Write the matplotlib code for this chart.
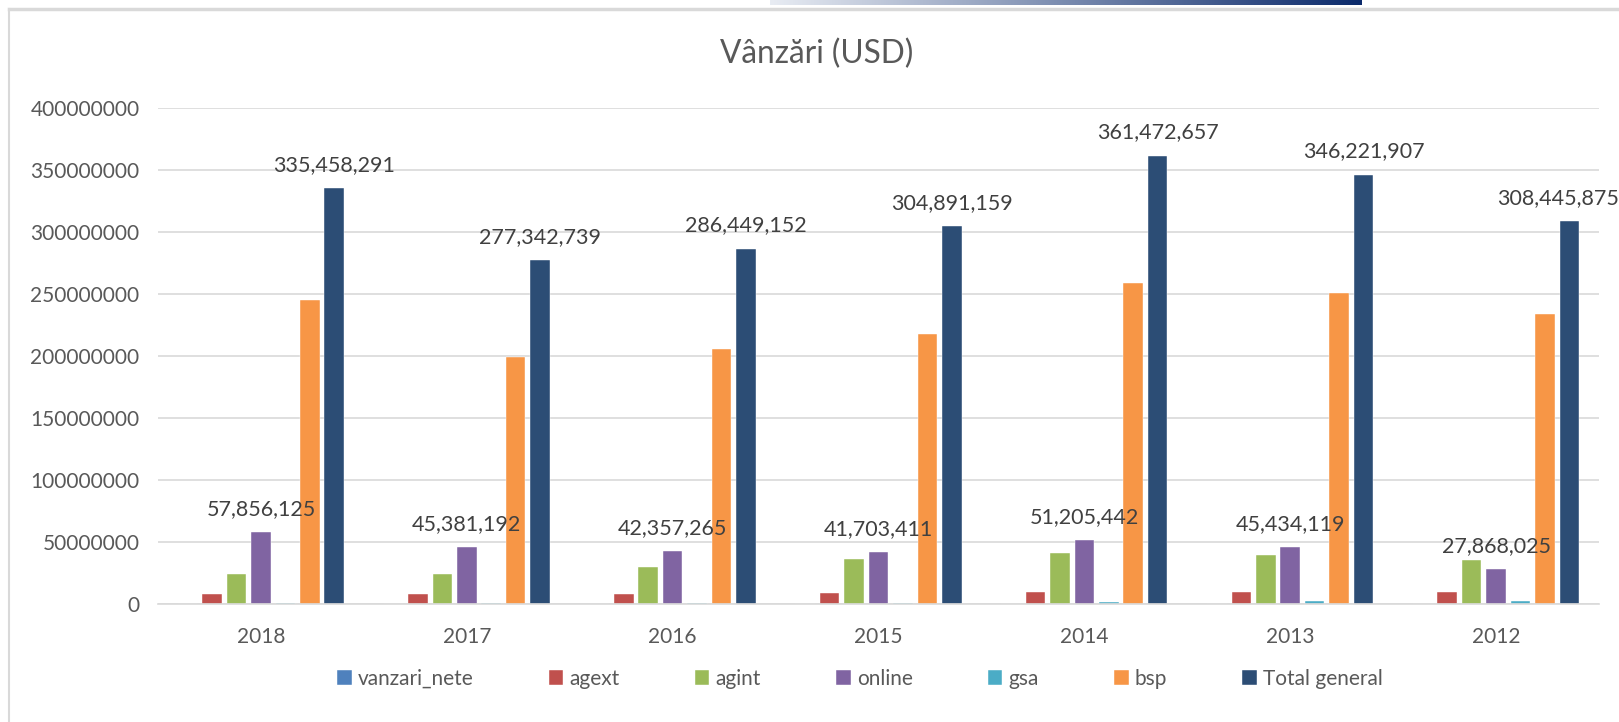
import numpy as np
import matplotlib.pyplot as plt

# data
years = ['2018', '2017', '2016', '2015', '2014', '2013', '2012']
vanzari_nete = [0, 0, 0, 0, 0, 0, 0]
agext = [8.0e6, 7.8e6, 7.8e6, 8.6e6, 9.1e6, 9.4e6, 9.4e6]
agint = [23.7e6, 24.2e6, 29.6e6, 36.3e6, 40.7e6, 39.0e6, 35.0e6]
online = [57856125, 45381192, 42357265, 41703411, 51205442, 45434119, 27868025]
gsa = [0.8e6, 0.6e6, 0.6e6, 0.6e6, 0.9e6, 1.9e6, 2.2e6]
bsp = [244.7e6, 199.0e6, 205.7e6, 217.5e6, 258.5e6, 250.5e6, 233.6e6]
total_general = [335458291, 277342739, 286449152, 304891159, 361472657, 346221907, 308445875]

series_names = ['vanzari_nete', 'agext', 'agint', 'online', 'gsa', 'bsp', 'Total general']
series_vals = [vanzari_nete, agext, agint, online, gsa, bsp, total_general]
colors = ['#4F81BD', '#C0504D', '#9BBB59', '#8064A2', '#4BACC6', '#F79646', '#2C4D75']
labelled = ['online', 'Total general']

plt.rcParams['font.family'] = ['Lato', 'DejaVu Sans']

W, H = 1619, 722
fig = plt.figure(figsize=(W / 100, H / 100), dpi=100)

# chart frame / screenshot decoration
frame = fig.add_axes([0, 0, 1, 1])
frame.set_xlim(0, W)
frame.set_ylim(H, 0)
frame.axis('off')
frame.plot([9, W], [9, 9], color='#D9D9D9', lw=2.5)
frame.plot([9, 9], [9, H], color='#D9D9D9', lw=1.5)
grad = fig.add_axes([770 / W, 1 - 5 / H, 591 / W, 5 / H])
grad.imshow(np.linspace(0, 1, 256)[None, :], aspect='auto',
            cmap=plt.matplotlib.colors.LinearSegmentedColormap.from_list('g', ['#e8ecf3', '#0B2A6B']))
grad.axis('off')

ax = fig.add_axes([158 / W, 1 - 603.5 / H, (1599 - 158) / W, (603.5 - 108) / H])

x = np.arange(len(years))
step = 0.1186
width = 0.095
for j, (name, vals, c) in enumerate(zip(series_names, series_vals, colors)):
    bars = ax.bar(x + (j - 3) * step, vals, width, color=c, label=name,
                  edgecolor='white', linewidth=0.3, zorder=2)
    if name in labelled:
        anns = ax.bar_label(bars, labels=[f'{v:,.0f}' for v in vals], padding=9.5,
                            fontsize=15.5, color='#404040', zorder=5)
        if name == 'Total general':
            # keep the last label inside the chart, like Excel does
            anns[-1].xyann = (-8, 9.5)

ax.set_xlim(-0.5, len(years) - 0.5)
ax.set_ylim(0, 400e6)
yt = np.arange(0, 400e6 + 1, 50e6)
ax.set_yticks(yt)
ax.set_yticklabels([f'{int(v)}' for v in yt])
ax.set_xticks(x)
ax.set_xticklabels(years)
ax.tick_params(axis='y', length=0, pad=13.3, labelsize=15, labelcolor='#595959')
ax.tick_params(axis='x', length=0, pad=17, labelsize=15, labelcolor='#595959')
ax.grid(axis='y', color='#D9D9D9', lw=1.2, zorder=0)
ax.set_axisbelow(True)
for s in ['top', 'right', 'left']:
    ax.spines[s].set_visible(False)
ax.spines['bottom'].set_color('#D9D9D9')
ax.spines['bottom'].set_linewidth(1.2)

fig.text(817 / W, 1 - 63.3 / H, 'Vânzări (USD)', ha='center', va='baseline',
         fontsize=22.8, color='#595959')

fig.legend(loc='center', bbox_to_anchor=(860 / W, 1 - 679 / H), ncol=7, frameon=False,
           fontsize=15, labelcolor='#595959', handlelength=0.7, handleheight=0.7,
           handletextpad=0.3, columnspacing=3.6)

fig.savefig('out.png', dpi=100)
